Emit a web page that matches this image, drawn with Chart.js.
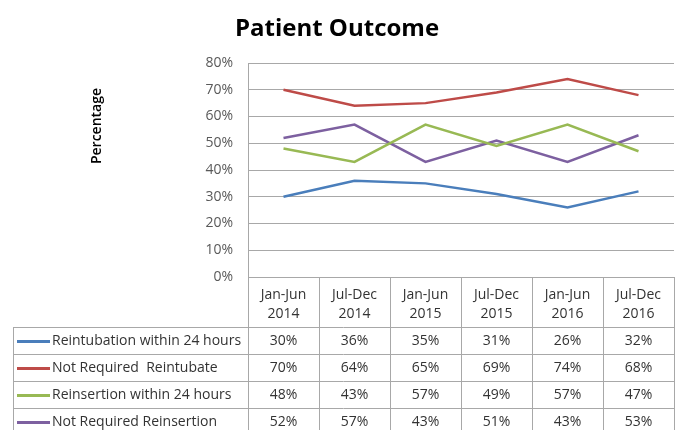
<!DOCTYPE html>
<html>
<head>
<meta charset="utf-8">
<script src="https://cdn.jsdelivr.net/npm/chart.js@4.4.1/dist/chart.umd.min.js"></script>
<style>
  html, body { margin: 0; padding: 0; background: #fff; }
</style>
</head>
<body>
<canvas id="outcomeChart" width="680" height="430"></canvas>
<script>
const periods = [
  ['Jan-Jun', '2014'], ['Jul-Dec', '2014'],
  ['Jan-Jun', '2015'], ['Jul-Dec', '2015'],
  ['Jan-Jun', '2016'], ['Jul-Dec', '2016']
];
const reintubation = [30, 36, 35, 31, 26, 32];
const notRequiredReintubate = [70, 64, 65, 69, 74, 68];
const reinsertion = [48, 43, 57, 49, 57, 47];
const notRequiredReinsertion = [52, 57, 43, 51, 43, 53];
const seriesNames = [
  'Reintubation within 24 hours',
  'Not Required  Reintubate',
  'Reinsertion within 24 hours',
  'Not Required Reinsertion'
];
const seriesColors = ['#4a7ebb', '#be4b48', '#98b954', '#7d60a0'];
const yMin = 0, yMax = 80, yStep = 10;

const FONT = '"Open Sans", sans-serif';
const gridColor = '#a8a8a8';

// draws the data table under the plot plus the rotated axis title
const tablePlugin = {
  id: 'dataTable',
  afterDraw(chart) {
    const c = chart.ctx;
    const x = chart.scales.x;
    const area = chart.chartArea;
    const colW = x.getPixelForValue(1) - x.getPixelForValue(0);
    const right = area.right;
    const legendLeft = 13;
    const headTop = area.bottom, headBottom = area.bottom + 50;
    const rowH = 27;
    const rowsBottom = headBottom + rowH * seriesNames.length;

    c.save();
    c.strokeStyle = gridColor;
    c.lineWidth = 1;
    c.beginPath();
    // column edges
    for (let i = 0; i <= periods.length; i++) {
      const px = Math.round(x.getPixelForValue(i) - colW / 2) + 0.5;
      c.moveTo(px, headTop);
      c.lineTo(px, rowsBottom);
    }
    c.moveTo(legendLeft + 0.5, headBottom);
    c.lineTo(legendLeft + 0.5, rowsBottom);
    for (let r = 0; r <= seriesNames.length; r++) {
      const py = Math.round(headBottom + r * rowH) + 0.5;
      c.moveTo(legendLeft, py);
      c.lineTo(right, py);
    }
    c.stroke();

    c.fillStyle = '#333';
    c.font = '14px ' + FONT;
    c.textAlign = 'center';
    c.textBaseline = 'middle';
    periods.forEach((p, i) => {
      const px = x.getPixelForValue(i);
      c.fillText(p[0], px, headTop + 18);
      c.fillText(p[1], px, headTop + 37);
    });

    chart.data.datasets.forEach((ds, r) => {
      const cy = headBottom + r * rowH + rowH / 2 + 1;
      c.strokeStyle = ds.borderColor;
      c.lineWidth = 3;
      c.beginPath();
      c.moveTo(17, cy);
      c.lineTo(50, cy);
      c.stroke();
      c.textAlign = 'left';
      c.fillText(ds.label, 52, cy);
      c.textAlign = 'center';
      ds.data.forEach((v, i) => {
        c.fillText(v + '%', x.getPixelForValue(i), cy);
      });
    });

    // y axis title
    c.translate(97, 126);
    c.rotate(-Math.PI / 2);
    c.font = '600 14px ' + FONT;
    c.fillStyle = '#000';
    c.textAlign = 'center';
    c.fillText('Percentage', 0, 0);
    c.restore();
  }
};

const allSeries = [reintubation, notRequiredReintubate, reinsertion, notRequiredReinsertion];

new Chart(document.getElementById('outcomeChart'), {
  type: 'line',
  data: {
    labels: periods.map(p => p.join(' ')),
    datasets: allSeries.map((values, i) => ({
      label: seriesNames[i],
      data: values,
      borderColor: seriesColors[i],
      backgroundColor: seriesColors[i],
      borderWidth: 2.5,
      pointRadius: 0,
      tension: 0,
      fill: false
    }))
  },
  options: {
    responsive: false,
    animation: false,
    devicePixelRatio: 1,
    layout: { padding: { left: 0, right: 6, top: 0, bottom: 153 } },
    plugins: {
      legend: { display: false },
      tooltip: { enabled: false },
      title: {
        display: true,
        text: 'Patient Outcome',
        color: '#000',
        font: { family: FONT, size: 24, weight: 'bold' },
        padding: { top: 15, bottom: 19.2 }
      }
    },
    scales: {
      x: {
        display: false,
        offset: true
      },
      y: {
        min: yMin,
        max: yMax,
        afterFit(scale) { scale.width = 248; },
        ticks: {
          stepSize: yStep,
          padding: 15,
          color: '#595959',
          font: { family: FONT, size: 14 },
          callback: v => v + '%'
        },
        grid: { color: gridColor, drawTicks: false },
        border: { color: gridColor }
      }
    }
  },
  plugins: [tablePlugin]
});
</script>
</body>
</html>
